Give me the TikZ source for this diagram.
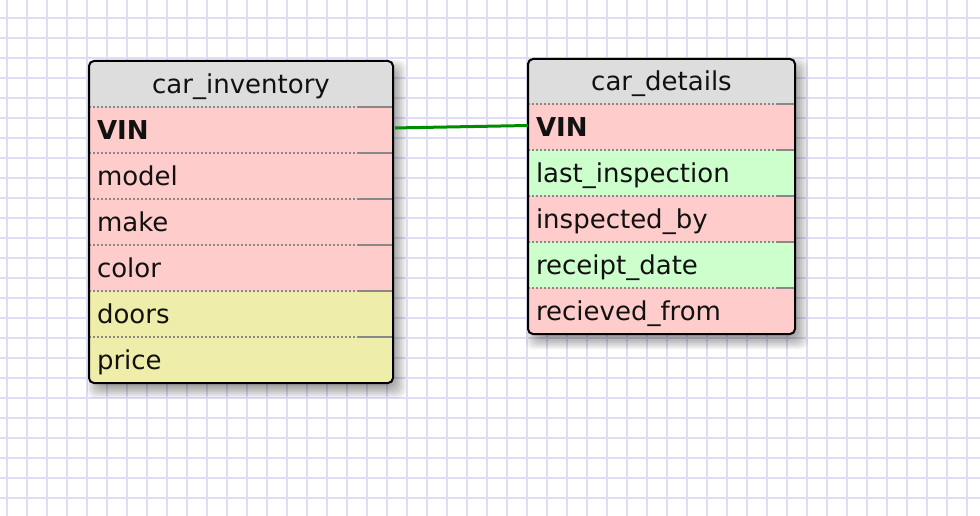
\documentclass[tikz,border=0pt]{standalone}
\usepackage{fontspec}
\setmainfont{DejaVu Sans}
\usetikzlibrary{calc}
\pgfdeclarelayer{bg}
\pgfdeclarelayer{fills}
\pgfsetlayers{bg,fills,main}
\definecolor{gridc}{RGB}{223,221,246}
\definecolor{pinkc}{RGB}{255,204,204}
\definecolor{greenc}{RGB}{204,255,204}
\definecolor{yellowc}{RGB}{238,238,170}
\definecolor{headc}{RGB}{221,221,221}
\definecolor{linkc}{RGB}{0,140,0}
\definecolor{sepc}{RGB}{136,136,136}
\definecolor{txtc}{RGB}{17,17,17}
\newcommand\rowfill[2]{\fill[#2] (#1.north west) rectangle (#1.south east);}
\begin{document}
\begin{tikzpicture}[x=1pt,y=-1pt,
  cell/.style={anchor=north west, inner xsep=8pt, inner ysep=0pt, outer sep=0pt,
    minimum height=46pt, text height=22pt, text depth=3pt, align=left, text=txtc,
    font=\fontsize{26}{31}\selectfont},
  hdr/.style={cell, align=center},
  wa/.style={text width=288pt},
  wb/.style={text width=251pt},
  sepdot/.style={draw=sepc, line width=1.5pt, dash pattern=on 2pt off 2pt},
  sepsolid/.style={draw=sepc, line width=1.5pt},
  border/.style={draw=black, line width=2pt, rounded corners=5pt},
  link/.style={draw=linkc, line width=3pt},
  shade/.style={fill=black, opacity=0.06, rounded corners=8pt}
]
\useasboundingbox (0,0) rectangle (980,516);
% ---- table 1
\node[hdr, wa] (t1head) at (89,61) {car\_inventory};
\node[cell, wa] (t1vin) at (89,107) {\textbf{VIN}};
\node[cell, wa] (t1model) at (89,153) {model};
\node[cell, wa] (t1make) at (89,199) {make};
\node[cell, wa] (t1color) at (89,245) {color};
\node[cell, wa] (t1doors) at (89,291) {doors};
\node[cell, wa] (t1price) at (89,337) {price};
% ---- table 2
\node[hdr, wb, minimum height=45pt] (t2head) at (528,59) {car\_details};
\node[cell, wb] (t2vin) at (528,104) {\textbf{VIN}};
\node[cell, wb] (t2last) at (528,150) {last\_inspection};
\node[cell, wb] (t2insp) at (528,196) {inspected\_by};
\node[cell, wb] (t2rcpt) at (528,242) {receipt\_date};
\node[cell, wb] (t2recv) at (528,288) {recieved\_from};
% ---- background: grid and shadows
\begin{pgfonlayer}{bg}
  \fill[white] (0,0) rectangle (980,516);
  \foreach \x in {7,27,...,987} \draw[gridc, line width=2pt] (\x,0) -- (\x,516);
  \foreach \y in {18,38,...,518} \draw[gridc, line width=2pt] (0,\y) -- (980,\y);
  \foreach \r in {-5,-3,...,9} {
    \fill[shade] ($(t1head.north west)+(7-\r,8-\r)$) rectangle ($(t1price.south east)+(4+\r,6+\r)$);
    \fill[shade] ($(t2head.north west)+(7-\r,8-\r)$) rectangle ($(t2recv.south east)+(4+\r,6+\r)$);
  }
\end{pgfonlayer}
% ---- row fills
\begin{pgfonlayer}{fills}
  \begin{scope}
    \clip[rounded corners=5pt] (t1head.north west) rectangle (t1price.south east);
    \rowfill{t1head}{headc}
    \rowfill{t1vin}{pinkc}
    \rowfill{t1model}{pinkc}
    \rowfill{t1make}{pinkc}
    \rowfill{t1color}{pinkc}
    \rowfill{t1doors}{yellowc}
    \rowfill{t1price}{yellowc}
  \end{scope}
  \begin{scope}
    \clip[rounded corners=5pt] (t2head.north west) rectangle (t2recv.south east);
    \rowfill{t2head}{headc}
    \rowfill{t2vin}{pinkc}
    \rowfill{t2last}{greenc}
    \rowfill{t2insp}{pinkc}
    \rowfill{t2rcpt}{greenc}
    \rowfill{t2recv}{pinkc}
  \end{scope}
\end{pgfonlayer}
% ---- separators
\foreach \n in {t1vin,t1model,t1make,t1color,t1doors,t1price} {
  \draw[sepdot] (\n.north west) -- ($(\n.north east)+(-36,0)$);
  \draw[sepsolid] ($(\n.north east)+(-36,0)$) -- (\n.north east);
}
\foreach \n in {t2vin,t2last,t2insp,t2rcpt,t2recv} {
  \draw[sepdot] (\n.north west) -- ($(\n.north east)+(-18,0)$);
  \draw[sepsolid] ($(\n.north east)+(-18,0)$) -- (\n.north east);
}
% ---- borders
\draw[border] (t1head.north west) rectangle (t1price.south east);
\draw[border] (t2head.north west) rectangle (t2recv.south east);
% ---- connector
\draw[link, shorten <=2pt] ($(t1vin.east)+(0,-2)$) -- ($(t2vin.west)+(0,-1.5)$);
\end{tikzpicture}
\end{document}
